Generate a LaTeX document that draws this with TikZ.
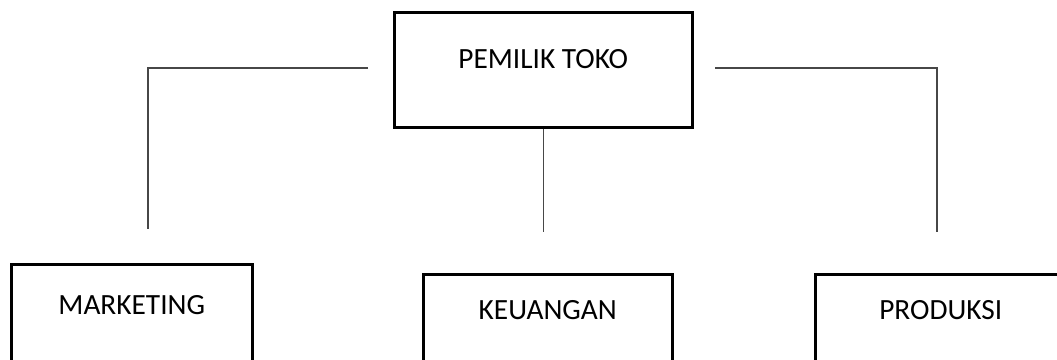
\documentclass[tikz,border=0pt]{standalone}
\usepackage{fontspec}
\setmainfont{Carlito}
\begin{document}
\begin{tikzpicture}[x=0.75pt,y=-0.75pt,
  box/.style={draw=black, line width=1.9pt, inner sep=0pt, anchor=north west,
    font=\fontsize{22}{26}\selectfont, text=black},
  conn/.style={draw=black!72, line width=1pt}]
\useasboundingbox (0,0) rectangle (1057,360);
\clip (0,0) rectangle (1057,360);
\node[box, minimum width=298*0.75pt, text height=56*0.75pt, text depth=59*0.75pt] (top) at (393,11) {PEMILIK TOKO};
\node[box, minimum width=241*0.75pt, text height=50*0.75pt, text depth=90*0.75pt] (mkt) at (10,263) {MARKETING};
\node[box, minimum width=249*0.75pt, text height=45*0.75pt, text depth=90*0.75pt] (keu) at (422,273) {KEUANGAN};
\node[box, minimum width=251*0.75pt, text height=45*0.75pt, text depth=90*0.75pt] (pro) at (814,273) {PRODUKSI};
\coordinate (la) at (368,68);
\coordinate (lb) at (148,68);
\coordinate (lc) at (148,229);
\coordinate (mb) at (542,232);
\coordinate (ra) at (715,68);
\coordinate (rb) at (937,68);
\coordinate (rc) at (937,232);
\draw[conn] (la) -- (lb) -- (lc);
\draw[conn] (top.south) -- (top.south |- mb);
\draw[conn] (ra) -- (rb) -- (rc);
\end{tikzpicture}
\end{document}
